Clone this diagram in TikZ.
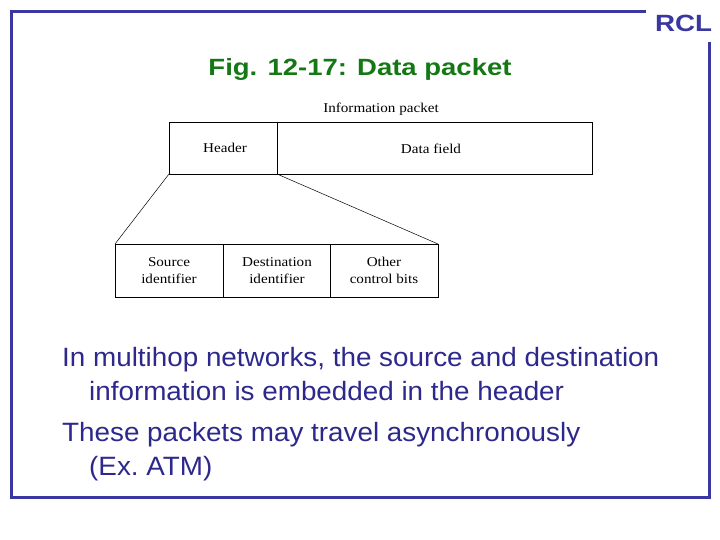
\documentclass[tikz,border=0pt]{standalone}
\usepackage{fontspec}
\setmainfont{Liberation Sans}
\newfontfamily\timesfont{Liberation Serif}
\definecolor{frameblue}{RGB}{58,55,160}
\definecolor{textblue}{RGB}{45,40,140}
\definecolor{titlegreen}{RGB}{20,120,20}
\newcommand{\hstretch}[2]{\scalebox{#1}[1]{#2}}
\begin{document}
\begin{tikzpicture}[x=1pt,y=-1pt,
  frame/.style={draw=frameblue,line width=3pt},
  cell/.style={draw=black,line width=0.6pt},
  difftext/.style={font=\timesfont\fontsize{13.5}{17}\selectfont,align=center,inner sep=0pt},
  bodytext/.style={font=\fontsize{26.5}{30}\selectfont,text=textblue,anchor=base west,inner sep=0pt}]
\useasboundingbox (0,0) rectangle (720,540);
% frame
\draw[frame] (646,12) -- (11.5,12) -- (11.5,497) -- (709,497) -- (709,42);
\node[font=\bfseries\fontsize{23.5}{23.5}\selectfont,text=frameblue,anchor=base] (rcl) at (683.5,32) {\hstretch{1.18}{RCL}};
% title
\node[font=\bfseries\fontsize{23.5}{23.5}\selectfont,text=titlegreen,anchor=base] (title) at (360,76) {\hstretch{1.17}{Fig. 12-17: Data packet}};
% top packet
\node[difftext,anchor=base] (info) at (381,113) {\hstretch{1.12}{Information packet}};
\draw[cell] (169,122) rectangle (592,174);
\draw[cell] (277,122) -- (277,174);
\coordinate (hbl) at (169,174);
\coordinate (hbr) at (277,174);
\node[difftext] (header) at (225,148) {\hstretch{1.12}{Header}};
\node[difftext] (data) at (431,149) {\hstretch{1.12}{Data field}};
% bottom header detail
\draw[cell] (115,244) rectangle (438,297);
\draw[cell] (223,244) -- (223,297);
\draw[cell] (330,244) -- (330,297);
\coordinate (dtl) at (115,244);
\coordinate (dtr) at (438,244);
\node[difftext] (src) at (169,270.5) {\hstretch{1.12}{Source}\\\hstretch{1.12}{identifier}};
\node[difftext] (dst) at (277,270.5) {\hstretch{1.12}{Destination}\\\hstretch{1.12}{identifier}};
\node[difftext] (oth) at (384,270.5) {\hstretch{1.12}{Other}\\\hstretch{1.12}{control bits}};
\draw[line width=0.5pt] (hbl) -- (dtl);
\draw[line width=0.5pt] (hbr) -- (dtr);
% body text
\node[bodytext] (l1) at (62,366) {\hstretch{1.05}{In multihop networks, the source and destination}};
\node[bodytext] (l2) at (89,400) {\hstretch{1.05}{information is embedded in the header}};
\node[bodytext] (l3) at (62,441) {\hstretch{1.05}{These packets may travel asynchronously}};
\node[bodytext] (l4) at (89,475) {\hstretch{1.05}{(Ex.\ ATM)}};
\end{tikzpicture}
\end{document}
